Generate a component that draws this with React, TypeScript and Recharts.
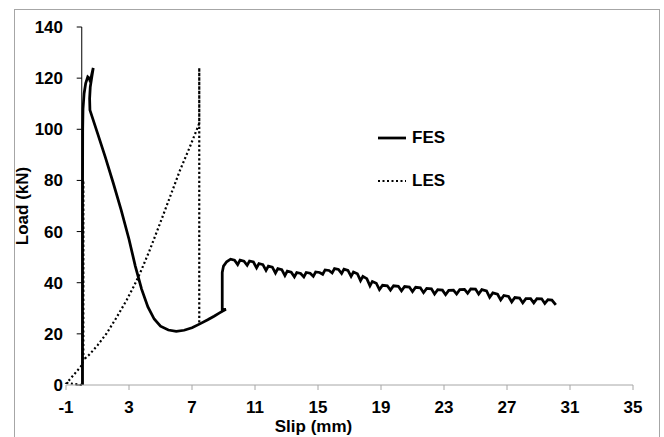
import React from "react";
import {
  ComposedChart,
  Line,
  XAxis,
  YAxis,
  ReferenceLine,
} from "recharts";

// slip (mm), load (kN)
const fesPoints = [
  [0.05, 0], [0.05, 30], [0.05, 70], [0.06, 100], [0.08, 108], [0.15, 114],
  [0.25, 118], [0.38, 120.5], [0.47, 120], [0.55, 118.5], [0.62, 121], [0.73, 124],
  [0.64, 120.5], [0.54, 116.5], [0.5, 112], [0.52, 107.5], [1.0, 98.5], [1.5, 89],
  [2.0, 79], [2.5, 68.5], [3.0, 57], [3.4, 46.5], [3.8, 37.5], [4.2, 30.5],
  [4.6, 25.8], [5.0, 23], [5.5, 21.5], [6.0, 21], [6.5, 21.4], [7.0, 22.4],
  [7.5, 23.9], [8.0, 25.5], [8.4, 26.9], [8.75, 28.2], [9.15, 29.6], [8.92, 29.5],
  [8.92, 44], [9.0, 46.5], [9.2, 48.2], [9.45, 49.2], [9.7, 48.8],
  [9.9, 47.1], [10.05, 48.8], [10.3, 48.4],
  [10.5, 46.8], [10.65, 48.5], [10.9, 48.1],
  [11.1, 45.8], [11.25, 47.5], [11.5, 47.1],
  [11.7, 44.8], [11.85, 46.5], [12.1, 46.1],
  [12.3, 43.8], [12.45, 45.5], [12.7, 45.1],
  [12.9, 42.8], [13.05, 44.5], [13.3, 44.1],
  [13.5, 42.3], [13.65, 44], [13.9, 43.6],
  [14.1, 42.3], [14.25, 44], [14.5, 43.7],
  [14.7, 42.5], [14.85, 44.2], [15.1, 44],
  [15.3, 43.3], [15.45, 45], [15.7, 44.8],
  [15.9, 43.8], [16.05, 45.5], [16.3, 45.2],
  [16.5, 43.6], [16.65, 45.3], [16.9, 44.8],
  [17.1, 42.5], [17.25, 44.2], [17.5, 43.5],
  [17.7, 40.8], [17.85, 42.5], [18.1, 41.6],
  [18.3, 38.8], [18.45, 40.5], [18.7, 39.8],
  [18.9, 37.3], [19.1, 39], [19.4, 38.8],
  [19.6, 37.1], [19.8, 38.8], [20.1, 38.6],
  [20.3, 36.8], [20.5, 38.5], [20.8, 38.3],
  [21.0, 36.5], [21.2, 38.2], [21.5, 38],
  [21.7, 36.1], [21.9, 37.8], [22.2, 37.6],
  [22.4, 35.6], [22.6, 37.3], [22.9, 37.1],
  [23.1, 35.3], [23.3, 37], [23.6, 37.1],
  [23.8, 35.6], [24.0, 37.3], [24.3, 37.4],
  [24.5, 35.9], [24.7, 37.6], [25.0, 37.5],
  [25.2, 35.6], [25.4, 37.3], [25.7, 36.8],
  [25.9, 34.3], [26.1, 36], [26.4, 35.5],
  [26.6, 33.3], [26.8, 35], [27.1, 34.6],
  [27.3, 32.5], [27.5, 34.2], [27.8, 34],
  [28.0, 32.1], [28.2, 33.8], [28.5, 33.8],
  [28.7, 32.1], [28.9, 33.8], [29.2, 33.7],
  [29.4, 31.9], [29.6, 33.4], [29.85, 33.2], [30.1, 31.3],
];

const lesPoints = [
  [0, 0], [-0.95, 0.8], [0.05, 8], [0.1, 40], [0.1, 80], [0.1, 9.8],
  [0.5, 12], [1.0, 15.5], [1.58, 20.2], [2.2, 26.3], [2.85, 33.2], [3.3, 38.5],
  [3.7, 43.7], [4.3, 52.5], [4.97, 63.2], [5.6, 73.5], [6.24, 84], [6.87, 93.2],
  [7.46, 102.3], [7.46, 124], [7.46, 104], [7.46, 49], [7.46, 34], [7.46, 24],
  [7.46, 40], [7.46, 124],
];

const xTicks = [-1, 3, 7, 11, 15, 19, 23, 27, 31, 35];
const yTicks = [0, 20, 40, 60, 80, 100, 120, 140];

const seriesNames = ["FES", "LES"];

const fesData = fesPoints.map(([x, y]) => ({ x, y }));
const lesData = lesPoints.map(([x, y]) => ({ x, y }));

const FONT = "'Liberation Sans', Arial, sans-serif";
const textStyle = { fontFamily: FONT, fontWeight: "bold", fontSize: 17, fill: "#000" };

const LegendBox = () => (
  <div
    style={{
      position: "absolute",
      left: 376,
      top: 116,
      fontFamily: FONT,
      fontWeight: "bold",
      fontSize: 17,
    }}
  >
    {seriesNames.map((name, i) => (
      <div key={name} style={{ display: "flex", alignItems: "center", height: 43 }}>
        <svg width={32} height={8} style={{ marginRight: 4 }}>
          <line
            x1={2}
            x2={30}
            y1={4}
            y2={4}
            stroke="#000"
            strokeWidth={i === 0 ? 2.75 : 2.2}
            strokeDasharray={i === 0 ? undefined : "2 2.5"}
          />
        </svg>
        <span>{name}</span>
      </div>
    ))}
  </div>
);

const App = () => {
  return (
    <div style={{ position: "absolute", left: 0, top: 0, width: 664, height: 437 }}>
      <div
        style={{
          position: "absolute",
          left: 14,
          top: 9,
          width: 644,
          height: 440,
          border: "1px solid #a6a6a6",
        }}
      />
      <ComposedChart
        width={664}
        height={437}
        margin={{ top: 27, right: 31, bottom: 22, left: 26 }}
        style={{ position: "absolute", left: 0, top: 0 }}
      >
        <XAxis
          type="number"
          dataKey="x"
          domain={[-1, 35]}
          ticks={xTicks}
          interval={0}
          height={30}
          stroke="#a6a6a6"
          tickSize={5}
          tickMargin={11}
          tick={textStyle}
          label={(props: any) => {
            const vb = props.viewBox;
            return (
              <text x={vb.x + vb.width / 2 - 36} y={432} textAnchor="middle" style={textStyle}>
                Slip (mm)
              </text>
            );
          }}
        />
        <YAxis
          type="number"
          domain={[0, 140]}
          ticks={yTicks}
          interval={0}
          width={40}
          axisLine={false}
          tickLine={false}
          tickSize={0}
          tickMargin={3}
          tick={textStyle}
          label={(props: any) => {
            const vb = props.viewBox;
            const cy = vb.y + vb.height / 2;
            return (
              <text
                x={22}
                y={cy}
                textAnchor="middle"
                dominantBaseline="central"
                transform={`rotate(-90 22 ${cy})`}
                style={textStyle}
              >
                Load (kN)
              </text>
            );
          }}
        />
        <ReferenceLine x={0} stroke="#000" strokeWidth={1} />
        {yTicks.map((v) => (
          <ReferenceLine
            key={v}
            segment={[
              { x: -0.32, y: v },
              { x: 0, y: v },
            ]}
            stroke="#000"
            strokeWidth={1}
          />
        ))}
        <Line
          data={lesData}
          dataKey="y"
          name="LES"
          type="linear"
          stroke="#000"
          strokeWidth={2.2}
          strokeDasharray="2 2.5"
          dot={false}
          isAnimationActive={false}
        />
        <Line
          data={fesData}
          dataKey="y"
          name="FES"
          type="linear"
          stroke="#000"
          strokeWidth={2.75}
          dot={false}
          isAnimationActive={false}
        />
      </ComposedChart>
      <LegendBox />
    </div>
  );
};

export default App;
